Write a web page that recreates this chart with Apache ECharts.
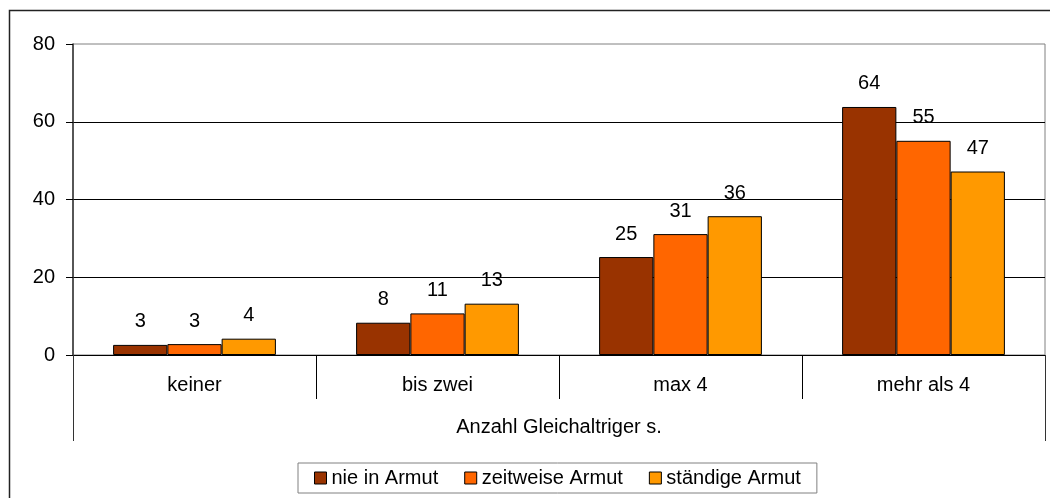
<!DOCTYPE html>
<html>
<head>
<meta charset="utf-8">
<script src="https://cdn.jsdelivr.net/npm/echarts@6/dist/echarts.min.js"></script>
<style>
  html, body { margin: 0; padding: 0; background: #fff; }
  #chart { width: 1050px; height: 498px; }
</style>
</head>
<body>
<div id="chart"></div>
<script>
// categories and values
var categories = ["keiner", "bis zwei", "max 4", "mehr als 4"];
var groupLabel = ["Anzahl Gleichaltriger s."];
var seriesNames = ["nie in Armut", "zeitweise Armut", "ständige Armut"];
var nieInArmut = [2.6, 8.3, 25.2, 63.8];
var zeitweiseArmut = [2.8, 10.7, 31.1, 55.1];
var staendigeArmut = [4.2, 13.2, 35.7, 47.2];
var colors = ["#993300", "#FF6600", "#FF9900"];

var font = "'Liberation Sans', Arial, sans-serif";
var fontSize = 20;

var chart = echarts.init(document.getElementById("chart"));

function barSeries(name, data, color) {
  return {
    name: name,
    type: "bar",
    data: data,
    barGap: 0,
    barCategoryGap: "33%",
    itemStyle: {
      color: color,
      borderColor: "#000",
      borderWidth: 1
    },
    label: {
      show: true,
      position: "top",
      distance: 13,
      color: "#000",
      fontFamily: font,
      fontSize: fontSize,
      formatter: function(p) {
        return Math.round(p.value);
      }
    },
    animation: false
  };
}

chart.setOption({
  backgroundColor: "#fff",
  animation: false,
  textStyle: { fontFamily: font },
  grid: {
    left: 73,
    right: 5,
    top: 44,
    bottom: 143,
    show: true,
    borderColor: "#808080",
    borderWidth: 1
  },
  legend: {
    data: seriesNames,
    bottom: 5,
    left: 298,
    icon: "rect",
    itemWidth: 12,
    itemHeight: 12,
    itemGap: 26,
    padding: [5, 16],
    borderColor: "#808080",
    borderWidth: 1,
    textStyle: { fontFamily: font, fontSize: fontSize, color: "#000" },
    itemStyle: { borderColor: "#000", borderWidth: 1 }
  },
  xAxis: [
    {
      type: "category",
      data: categories,
      axisLine: { lineStyle: { color: "#000", width: 1 } },
      axisTick: { show: true, interval: 0, length: 44, lineStyle: { color: "#000" } },
      axisLabel: { margin: 20, color: "#000", fontFamily: font, fontSize: fontSize }
    },
    {
      type: "category",
      data: groupLabel,
      position: "bottom",
      axisLine: { show: false },
      axisTick: { show: true, interval: 0, length: 86, lineStyle: { color: "#333" } },
      axisLabel: { margin: 62, color: "#000", fontFamily: font, fontSize: fontSize }
    }
  ],
  yAxis: {
    type: "value",
    min: 0,
    max: 80,
    interval: 20,
    axisLine: { show: true, lineStyle: { color: "#333", width: 1.5 } },
    axisTick: { show: true, length: 7, lineStyle: { color: "#000" } },
    axisLabel: { margin: 18, color: "#000", fontFamily: font, fontSize: fontSize },
    splitLine: {
      show: true,
      showMaxLine: false,
      lineStyle: { color: "#000", width: 1 }
    }
  },
  graphic: [
    {
      type: "rect",
      shape: { x: 9.5, y: 10.5, width: 1200, height: 600 },
      style: { fill: null, stroke: "#222", lineWidth: 1.5 },
      silent: true
    }
  ],
  series: [
    barSeries(seriesNames[0], nieInArmut, colors[0]),
    barSeries(seriesNames[1], zeitweiseArmut, colors[1]),
    barSeries(seriesNames[2], staendigeArmut, colors[2])
  ]
});
</script>
</body>
</html>
